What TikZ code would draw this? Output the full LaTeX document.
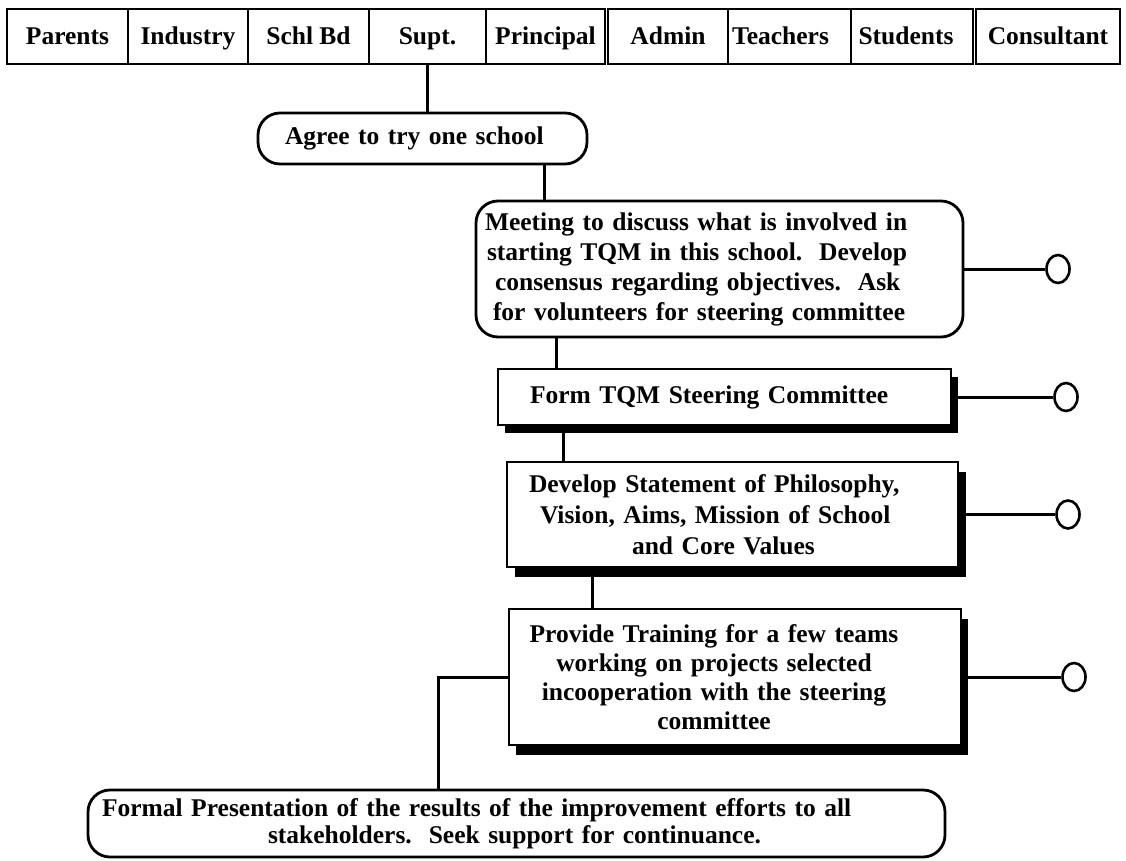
\documentclass[tikz,border=0pt]{standalone}
\usepackage{fontspec}
\setmainfont{Liberation Serif}
\usetikzlibrary{shapes.geometric,shadows}

\begin{document}
\begin{tikzpicture}[x=1pt,y=-1pt,
  every node/.style={font=\bfseries\fontsize{25.5}{30}\selectfont, inner sep=0pt},
  head/.style={draw, line width=2.4pt, minimum height=55pt, text height=18pt, text depth=1pt},
  pill/.style={draw, line width=2.8pt, rounded corners=22pt, fill=white},
  plainbox/.style={draw, line width=2.3pt, fill=white},
  boxshadow/.style 2 args={drop shadow={fill=black, opacity=1, shadow xshift=#1, shadow yshift=#2}},
  tip/.style={draw, ellipse, line width=2.6pt, minimum width=23pt, minimum height=28pt, inner sep=0pt},
  link/.style={line width=3pt}
]
\useasboundingbox (0,0) rectangle (1126,861);

% stakeholder header row
\node[head, minimum width=121pt] (parents)    at (67.5,36.5)  {Parents};
\node[head, minimum width=120pt] (industry)   at (188,36.5)   {Industry};
\node[head, minimum width=121pt] (schlbd)     at (308.5,36.5) {Schl Bd};
\node[head, minimum width=117pt] (supt)       at (427.5,36.5) {Supt.};
\node[head, minimum width=119pt] (principal)  at (545.5,36.5) {Principal};
\node[head, minimum width=120pt] (admin)      at (668,36.5)   {Admin};
\node[head, minimum width=123pt] (teachers)   at (789.5,36.5) {Teachers\hbox to 18pt{}};
\node[head, minimum width=122pt] (students)   at (912,36.5)   {Students\hbox to 12pt{}};
\node[head, minimum width=144pt] (consultant) at (1048,36.5)  {Consultant};

% process steps
\node[pill, minimum width=329pt, minimum height=51pt, text width=275pt, align=left]
  (agree) at (422.5,138.5) {Agree to try one school};

\node[pill, minimum width=487pt, minimum height=136pt, text width=469pt, align=left]
  (meeting) at (719.5,269)
  {Meeting to discuss what is involved in\\
   \hspace*{2pt}starting TQM in this school.\ \ Develop\\
   \hspace*{10pt}consensus regarding objectives.\ \ Ask\\
   \hspace*{8pt}for volunteers for steering committee};

\node[plainbox, boxshadow={7pt}{-8pt}, minimum width=453pt, minimum height=56pt, text width=389pt, align=left]
  (form) at (724.5,397) {Form TQM Steering Committee};

\node[plainbox, boxshadow={8pt}{-10pt}, minimum width=451pt, minimum height=105pt, text width=407pt, align=left,
      font=\bfseries\fontsize{25.5}{31}\selectfont]
  (develop) at (732.5,514.5)
  {Develop Statement of Philosophy,\\
   \hspace*{11pt}Vision, Aims, Mission of School\\
   \hspace*{103pt}and Core Values};

\node[plainbox, boxshadow={7pt}{-10pt}, minimum width=452pt, minimum height=136pt, text width=440pt, align=center,
      font=\bfseries\fontsize{25.5}{29}\selectfont]
  (training) at (735,677)
  {Provide Training for a few teams\hbox to 42pt{}\\
   working on projects selected\hbox to 42pt{}\\
   incooperation with the steering\hbox to 42pt{}\\
   committee\hbox to 42pt{}};

\node[pill, minimum width=857pt, minimum height=67pt, text width=829pt, align=left,
      font=\bfseries\fontsize{25.5}{27}\selectfont]
  (present) at (516.5,823.5)
  {Formal Presentation of the results of the improvement efforts to all\\
   \hspace*{166pt}stakeholders.\ \ Seek support for continuance.};

% open ends on the right
\node[tip] (circ1) at (1058,269) {};
\node[tip] (circ2) at (1066,397) {};
\node[tip] (circ3) at (1068,514.5) {};
\node[tip] (circ4) at (1074,677) {};

% connectors
\draw[link] (supt.south) -- (supt.south |- agree.north);
\draw[link] ([xshift=121.5pt]agree.south) -- ([xshift=121.5pt]agree.south |- meeting.north);
\draw[link] ([xshift=-163.5pt]meeting.south) -- ([xshift=-163.5pt]meeting.south |- form.north);
\draw[link] ([xshift=-161.5pt]form.south) -- ([xshift=-161.5pt]form.south |- develop.north);
\draw[link] ([xshift=-140.5pt]develop.south) -- ([xshift=-140.5pt]develop.south |- training.north);
\draw[link] (training.west) -| ([xshift=-78.5pt]present.north);

\draw[link] (meeting.east) -- (circ1.west);
\draw[link] (form.east) -- (circ2.west);
\draw[link] (develop.east) -- (circ3.west);
\draw[link] (training.east) -- (circ4.west);
\end{tikzpicture}
\end{document}
